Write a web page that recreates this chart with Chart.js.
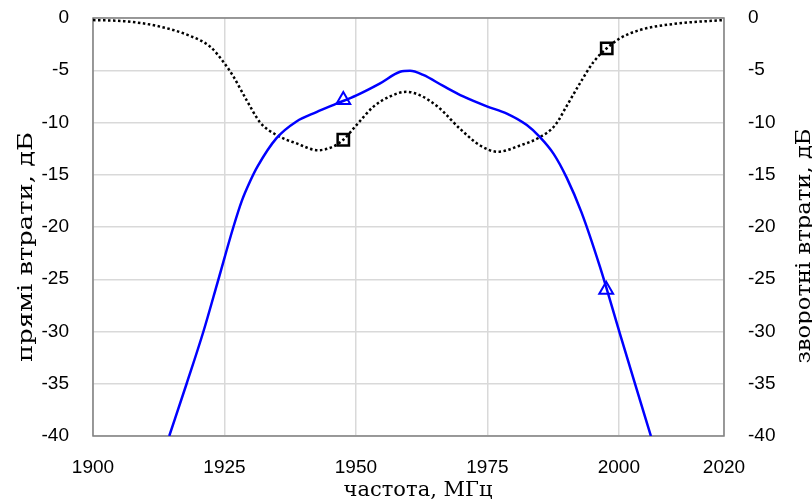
<!DOCTYPE html>
<html lang="uk">
<head>
<meta charset="utf-8">
<title>Прямі та зворотні втрати</title>
<script src="https://cdn.jsdelivr.net/npm/chart.js@4.4.1/dist/chart.umd.min.js"></script>
<style>
  html, body { margin: 0; padding: 0; background: #fff; }
</style>
</head>
<body>
<canvas id="loss-chart" width="812" height="504"></canvas>
<script>
// прямі втрати (суцільна синя лінія), частота в МГц
const freqS21 = [1914.5, 1917.8, 1921.0, 1923.8, 1926.7, 1928.3, 1929.9, 1931.3, 1934.9, 1938.7,
                 1942.5, 1946.3, 1950.1, 1954.6, 1958.4, 1960.3, 1962.8, 1966.6, 1970.4, 1974.9,
                 1978.7, 1982.5, 1985.0, 1987.6, 1990.1, 1992.9, 1996.4, 2000.2, 2003.2, 2006.1];
const lossS21 = [-40, -35, -30, -25.1, -20, -17.5, -15.6, -14.2, -11.5, -9.9,
                 -9.0, -8.2, -7.4, -6.25, -5.15, -5.05, -5.45, -6.5, -7.5, -8.45,
                 -9.15, -10.25, -11.4, -13.0, -15.3, -18.6, -23.8, -30.2, -35.2, -40];

// зворотні втрати (чорна пунктирна лінія)
const freqS11 = [1900, 1905.8, 1912.1, 1918.4, 1922.3, 1924.8, 1926.7, 1929.2, 1931.8, 1934.9,
                 1938.7, 1942.8, 1945.7, 1947.6, 1950.1, 1953.3, 1956.5, 1959.6, 1962.2, 1965.6,
                 1969.8, 1973.6, 1977.0, 1981.2, 1985.0, 1987.9, 1990.1, 1992.6, 1995.2, 1997.7,
                 2000.2, 2004.0, 2010.4, 2020];
const lossS11 = [-0.2, -0.3, -0.75, -1.7, -2.75, -4.2, -5.6, -7.85, -10.0, -11.2,
                 -12.0, -12.65, -12.3, -11.65, -10.25, -8.5, -7.5, -7.06, -7.4, -8.5,
                 -10.6, -12.2, -12.8, -12.2, -11.4, -10.25, -8.4, -6.25, -4.2, -2.9,
                 -1.95, -1.15, -0.57, -0.19];

// маркери
const markFreqS21 = [1947.6, 1997.6];
const markLossS21 = [-7.85, -26.0];
const markFreqS11 = [1947.6, 1997.7];
const markLossS11 = [-11.65, -2.9];

const xTicks = [1900, 1925, 1950, 1975, 2000, 2020];
const yTicks = [0, -5, -10, -15, -20, -25, -30, -35, -40];

const TICK_FONT = { family: "'Liberation Sans', Arial, sans-serif", size: 19 };
const TITLE_FONT = "21px 'DejaVu Serif', serif";
const GRID = { color: '#d9d9d9', lineWidth: 1.5, drawTicks: false };

function toPoints(xs, ys) {
  return xs.map((x, i) => ({ x, y: ys[i] }));
}

function setTicks(values) {
  return scale => { scale.ticks = values.map(v => ({ value: v })); };
}

// фіксована ширина вертикальної осі без додаткових відступів зверху/знизу
function fitY(width) {
  return s => { s.width = width; s.paddingTop = 0; s.paddingBottom = 0; };
}

// рамка області графіка
const framePlugin = {
  id: 'frame',
  beforeDatasetsDraw(chart) {
    const { ctx, chartArea: a } = chart;
    ctx.save();
    ctx.strokeStyle = '#808080';
    ctx.lineWidth = 1.5;
    ctx.strokeRect(a.left, a.top, a.right - a.left, a.bottom - a.top);
    ctx.restore();
  }
};

// назви осей; вертикальні розтягнуті до потрібної довжини
const titlesPlugin = {
  id: 'axisTitles',
  afterDraw(chart) {
    const ctx = chart.ctx;
    ctx.save();
    ctx.fillStyle = '#000';
    ctx.font = TITLE_FONT;
    ctx.textAlign = 'center';
    ctx.textBaseline = 'middle';
    ctx.fillText('частота, МГц', 418, 491);
    [['прямі втрати, дБ', 27, 247, 230], ['зворотні втрати, дБ', 805, 246, 235]].forEach(([text, x, y, len]) => {
      ctx.save();
      ctx.translate(x, y);
      ctx.rotate(-Math.PI / 2);
      ctx.scale(len / ctx.measureText(text).width, 1);
      ctx.fillText(text, 0, 0);
      ctx.restore();
    });
    ctx.restore();
  }
};

new Chart(document.getElementById('loss-chart'), {
  type: 'line',
  data: {
    datasets: [
      {
        label: 'прямі втрати',
        data: toPoints(freqS21, lossS21),
        yAxisID: 'y',
        borderColor: '#0000ff',
        borderWidth: 2.5,
        pointRadius: 0,
        cubicInterpolationMode: 'monotone'
      },
      {
        label: 'зворотні втрати',
        data: toPoints(freqS11, lossS11),
        yAxisID: 'y2',
        borderColor: '#000',
        borderWidth: 2.5,
        borderDash: [2.5, 2.5],
        pointRadius: 0,
        cubicInterpolationMode: 'monotone'
      },
      {
        label: 'маркери S21',
        data: toPoints(markFreqS21, markLossS21),
        yAxisID: 'y',
        showLine: false,
        pointStyle: 'triangle',
        pointRadius: 8,
        pointBorderWidth: 2,
        pointBorderColor: '#0000ff',
        pointBackgroundColor: 'rgba(0,0,0,0)'
      },
      {
        label: 'маркери S11',
        data: toPoints(markFreqS11, markLossS11),
        yAxisID: 'y2',
        showLine: false,
        pointStyle: 'rect',
        pointRadius: 8,
        pointBorderWidth: 2.5,
        pointBorderColor: '#000',
        pointBackgroundColor: 'rgba(0,0,0,0)'
      }
    ]
  },
  options: {
    responsive: false,
    animation: false,
    layout: { padding: { top: 18, left: 0, right: 0, bottom: 0 } },
    plugins: { legend: { display: false }, tooltip: { enabled: false } },
    scales: {
      x: {
        type: 'linear',
        min: 1900,
        max: 2020,
        afterBuildTicks: setTicks(xTicks),
        afterFit: s => { s.height = 68; },
        grid: GRID,
        border: { display: false },
        ticks: { font: TICK_FONT, color: '#000', padding: 20, maxRotation: 0, autoSkip: false, callback: v => String(v) }
      },
      y: {
        position: 'left',
        min: -40,
        max: 0,
        afterBuildTicks: setTicks(yTicks),
        afterFit: fitY(93),
        grid: GRID,
        border: { display: false },
        ticks: { font: TICK_FONT, color: '#000', padding: 24 }
      },
      y2: {
        position: 'right',
        min: -40,
        max: 0,
        afterBuildTicks: setTicks(yTicks),
        afterFit: fitY(88),
        grid: { display: false, drawTicks: false },
        border: { display: false },
        ticks: { font: TICK_FONT, color: '#000', padding: 24 }
      }
    }
  },
  plugins: [framePlugin, titlesPlugin]
});
</script>
</body>
</html>
